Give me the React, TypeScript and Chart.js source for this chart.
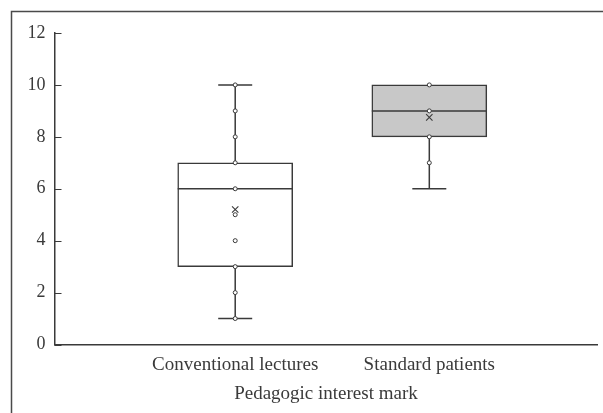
import React, { useEffect, useRef } from "react";
import { Chart, registerables } from "chart.js";

Chart.register(...registerables);

const categories = ["Conventional lectures", "Standard patients"];
const q1 = [3, 8];
const q3 = [7, 10];
const medians = [6, 9];
const whiskerLow = [1, 6];
const whiskerHigh = [10, 10];
const means = [5.2, 8.75];
const pointsConventional = [1, 2, 3, 4, 5, 6, 7, 8, 9, 10];
const pointsStandard = [7, 8, 9, 10];
const yTicks = [0, 2, 4, 6, 8, 10, 12];
const boxColors = ["#ffffff", "#c8c8c8"];

const INK = "#3a3a3a";
const FONT = "'Liberation Serif', 'DejaVu Serif', serif";

export default function App() {
  const ref = useRef<HTMLCanvasElement | null>(null);

  useEffect(() => {
    if (!ref.current) return;

    const framePlugin = {
      id: "frame",
      beforeDraw(chart: any) {
        const ctx = chart.ctx;
        ctx.save();
        ctx.fillStyle = "#ffffff";
        ctx.fillRect(0, 0, chart.width, chart.height);
        ctx.strokeStyle = "#4a4a4a";
        ctx.lineWidth = 1.5;
        ctx.beginPath();
        ctx.moveTo(11.5, chart.height);
        ctx.lineTo(11.5, 11.5);
        ctx.lineTo(chart.width, 11.5);
        ctx.stroke();
        ctx.restore();
      },
      afterDraw(chart: any) {
        const ctx = chart.ctx;
        const y = chart.scales.y;
        const left = chart.chartArea.left;
        ctx.save();
        ctx.strokeStyle = INK;
        ctx.lineWidth = 1;
        yTicks.forEach((v) => {
          const py = Math.round(y.getPixelForValue(v)) + 0.5;
          ctx.beginPath();
          ctx.moveTo(left, py);
          ctx.lineTo(left + 7, py);
          ctx.stroke();
        });
        ctx.restore();
      },
      afterDatasetDraw(chart: any, args: any) {
        if (args.index !== 0) return;
        const ctx = chart.ctx;
        const x = chart.scales.x;
        const y = chart.scales.y;
        ctx.save();
        ctx.strokeStyle = INK;
        ctx.lineWidth = 1.5;
        categories.forEach((_, i) => {
          const cx = x.getPixelForValue(i + 1);
          const half = 57.5;
          const cap = 17;
          const pm = y.getPixelForValue(medians[i]);
          ctx.beginPath();
          ctx.moveTo(cx - half, pm);
          ctx.lineTo(cx + half, pm);
          ctx.stroke();
          const pl = y.getPixelForValue(whiskerLow[i]);
          const pq1 = y.getPixelForValue(q1[i]);
          if (whiskerLow[i] < q1[i]) {
            ctx.beginPath();
            ctx.moveTo(cx, pq1);
            ctx.lineTo(cx, pl);
            ctx.moveTo(cx - cap, pl);
            ctx.lineTo(cx + cap, pl);
            ctx.stroke();
          }
          const ph = y.getPixelForValue(whiskerHigh[i]);
          const pq3 = y.getPixelForValue(q3[i]);
          if (whiskerHigh[i] > q3[i]) {
            ctx.beginPath();
            ctx.moveTo(cx, pq3);
            ctx.lineTo(cx, ph);
            ctx.moveTo(cx - cap, ph);
            ctx.lineTo(cx + cap, ph);
            ctx.stroke();
          }
        });
        ctx.restore();
      },
    };

    const chart = new Chart(ref.current, {
      type: "bar",
      data: {
        datasets: [
          {
            type: "bar",
            data: categories.map((_, i) => ({ x: i + 1, y: [q1[i], q3[i]] })) as any,
            backgroundColor: boxColors,
            borderColor: INK,
            borderWidth: 1.5,
            borderSkipped: false,
            barThickness: 115,
            order: 3,
          } as any,
          {
            type: "scatter",
            data: [
              ...pointsConventional.map((v) => ({ x: 1, y: v })),
              ...pointsStandard.map((v) => ({ x: 2, y: v })),
            ],
            pointStyle: "circle",
            pointRadius: 2,
            pointBackgroundColor: "#ffffff",
            pointBorderColor: INK,
            pointBorderWidth: 1,
            order: 2,
          } as any,
          {
            type: "scatter",
            data: means.map((v, i) => ({ x: i + 1, y: v })),
            pointStyle: "crossRot",
            pointRadius: 4.5,
            pointBorderColor: INK,
            pointBorderWidth: 1.1,
            order: 1,
          } as any,
        ],
      },
      options: {
        animation: false,
        responsive: false,
        events: [],
        layout: { padding: { left: 0, right: 3, top: 33, bottom: 7.6 } },
        plugins: {
          legend: { display: false },
          tooltip: { enabled: false },
        },
        scales: {
          x: {
            type: "linear",
            offset: false,
            min: 0.069,
            max: 2.866,
            grid: { display: false, drawTicks: false, offset: false },
            border: { display: true, color: INK, width: 1.5 },
            afterBuildTicks: (scale: any) => {
              scale.ticks = categories.map((_, i) => ({ value: i + 1 }));
            },
            afterFit: (scale: any) => {
              scale.height = 60.9;
            },
            ticks: {
              padding: 9,
              color: INK,
              font: { family: FONT, size: 19 },
              callback: (v: any) => categories[Number(v) - 1] ?? "",
            },
            title: {
              display: true,
              text: "Pedagogic interest mark",
              color: INK,
              font: { family: FONT, size: 19 },
              padding: { top: 0, bottom: 0 },
            },
          },
          y: {
            type: "linear",
            min: 0,
            max: 12,
            grid: { display: false, drawTicks: false },
            border: { display: true, color: INK, width: 1.5 },
            afterBuildTicks: (scale: any) => {
              scale.ticks = yTicks.map((v) => ({ value: v }));
            },
            afterFit: (scale: any) => {
              scale.width = 54.5;
            },
            ticks: {
              padding: 9,
              color: INK,
              font: { family: FONT, size: 18 },
            },
          },
        },
      },
      plugins: [framePlugin],
    } as any);

    return () => chart.destroy();
  }, []);

  return (
    <div style={{ position: "absolute", left: 0, top: 0, width: 603, height: 413 }}>
      <canvas ref={ref} width={603} height={413} />
    </div>
  );
}
